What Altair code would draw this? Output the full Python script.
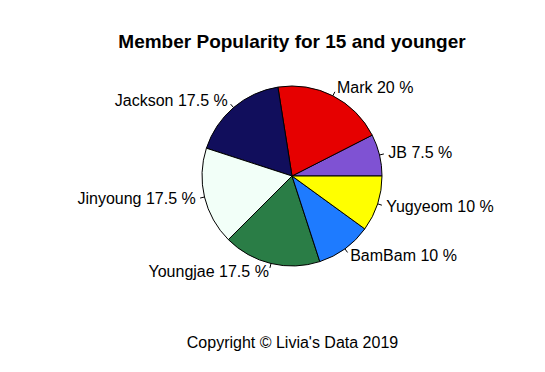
import math
import altair as alt
import pandas as pd

names = ["JB", "Mark", "Jackson", "Jinyoung", "Youngjae", "BamBam", "Yugyeom"]
values = [7.5, 20, 17.5, 17.5, 17.5, 10, 10]
colors = ["#7F52D3", "#E60000", "#110E5C", "#F2FFF8", "#2A7D46", "#1E7BFF", "#FFFF00"]

df = pd.DataFrame({"idx": list(range(len(names))), "name": names, "value": values})

FONT = "Liberation Sans"
PI = math.pi

base = alt.Chart(df)

pie = base.mark_arc(radius=90, stroke="black", strokeWidth=1).encode(
    theta=alt.Theta("value:Q", stack=True,
                    scale=alt.Scale(range=[PI / 2, PI / 2 + 2 * PI])),
    order=alt.Order("idx:Q", sort="descending"),
    color=alt.Color("name:N", scale=alt.Scale(domain=names, range=colors), legend=None),
)

lab = base.transform_window(
    cum="sum(value)", sort=[alt.SortField("idx")], frame=[None, 0]
).transform_joinaggregate(
    total="sum(value)"
).transform_calculate(
    mid="2*PI*(datum.cum - datum.value/2)/datum.total",
    cx="cos(datum.mid)",
    sy="sin(datum.mid)",
    rx="1.05*cos(datum.mid)",
    ry="1.05*sin(datum.mid)",
    lx="1.1*cos(datum.mid)",
    ly="1.1*sin(datum.mid)",
    label="datum.name + ' ' + datum.value + ' %'",
)

xs = alt.Scale(domain=[-1, 1], nice=False, zero=False)
ys = alt.Scale(domain=[-1, 1], nice=False, zero=False)
xaxis = alt.Axis(labels=False, ticks=False, domain=False, grid=False,
                 title="Copyright © Livia's Data 2019", titleFont=FONT,
                 titleFontSize=16, titleFontWeight="normal", titleColor="black",
                 titlePadding=68)

ticks = lab.mark_rule(color="black", strokeWidth=1).encode(
    x=alt.X("cx:Q", scale=xs, axis=xaxis),
    x2="rx:Q",
    y=alt.Y("sy:Q", scale=ys, axis=None),
    y2="ry:Q",
)

text_r = lab.transform_filter("datum.cx >= 0").mark_text(
    align="left", baseline="middle", font=FONT, fontSize=16, color="black"
).encode(x=alt.X("lx:Q", scale=xs), y=alt.Y("ly:Q", scale=ys), text="label:N")

text_l = lab.transform_filter("datum.cx < 0").mark_text(
    align="right", baseline="middle", font=FONT, fontSize=16, color="black"
).encode(x=alt.X("lx:Q", scale=xs), y=alt.Y("ly:Q", scale=ys), text="label:N")

chart = alt.layer(pie, ticks, text_r, text_l).properties(
    width=180, height=180,
    autosize=alt.AutoSizeParams(type="none"),
    padding={"left": 194, "top": 78, "right": 155, "bottom": 98},
    title=alt.TitleParams("Member Popularity for 15 and younger", font=FONT,
                          fontSize=19, fontWeight="bold", color="black",
                          anchor="middle", offset=28),
).configure_view(stroke=None)

chart.save("out.html", embed_options={"renderer": "svg", "actions": False})
